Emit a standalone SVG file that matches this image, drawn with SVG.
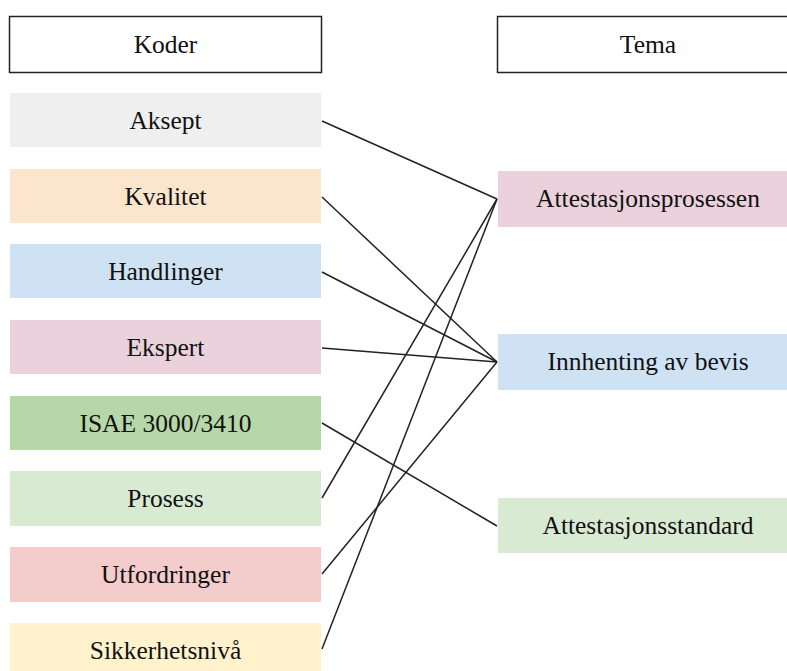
<svg xmlns="http://www.w3.org/2000/svg" width="787" height="671" viewBox="0 0 787 671">
<style>
text{font-family:"Liberation Serif","Times New Roman",serif;font-size:25.5px;fill:#111;text-anchor:middle}
.hdr{fill:#fff;stroke:#222;stroke-width:1.5}
.lk{stroke:#222;stroke-width:1.5;fill:none}
</style>
<rect width="787" height="671" fill="#fff"/>
<g id="koder"><rect class="hdr" x="9.5" y="16.5" width="312" height="56"/><text x="165.5" y="53">Koder</text></g>
<g id="tema"><rect class="hdr" x="497.5" y="16.5" width="302" height="56"/><text x="648" y="53">Tema</text></g>
<g id="aksept"><rect x="10" y="93" width="311" height="54" fill="#efefef"/><text x="165.5" y="129">Aksept</text></g>
<g id="kvalitet"><rect x="10" y="169" width="311" height="54" fill="#fce5cd"/><text x="165.5" y="205">Kvalitet</text></g>
<g id="handlinger"><rect x="10" y="244" width="311" height="54" fill="#cfe2f3"/><text x="165.5" y="280">Handlinger</text></g>
<g id="ekspert"><rect x="10" y="320" width="311" height="54" fill="#ead1dc"/><text x="165.5" y="356">Ekspert</text></g>
<g id="isae"><rect x="10" y="396" width="311" height="54" fill="#b6d7a8"/><text x="165.5" y="432">ISAE 3000/3410</text></g>
<g id="prosess"><rect x="10" y="471" width="311" height="55" fill="#d9ead3"/><text x="165.5" y="507">Prosess</text></g>
<g id="utfordringer"><rect x="10" y="547" width="311" height="55" fill="#f4cccc"/><text x="165.5" y="583">Utfordringer</text></g>
<g id="sikkerhetsniva"><rect x="10" y="623" width="311" height="55" fill="#fff2cc"/><text x="165.5" y="659">Sikkerhetsnivå</text></g>
<g id="attestasjonsprosessen"><rect x="498" y="171" width="301" height="56" fill="#ead1dc"/><text x="648" y="207">Attestasjonsprosessen</text></g>
<g id="innhenting"><rect x="498" y="334" width="301" height="56" fill="#cfe2f3"/><text x="648" y="370">Innhenting av bevis</text></g>
<g id="attestasjonsstandard"><rect x="498" y="498" width="301" height="55" fill="#d9ead3"/><text x="648" y="534">Attestasjonsstandard</text></g>
<g id="connectors">
<line class="lk" x1="322" y1="121" x2="497" y2="199"/>
<line class="lk" x1="322" y1="197" x2="497" y2="362"/>
<line class="lk" x1="322" y1="272" x2="497" y2="362"/>
<line class="lk" x1="322" y1="348" x2="497" y2="362"/>
<line class="lk" x1="322" y1="423" x2="497" y2="526"/>
<line class="lk" x1="322" y1="498" x2="497" y2="199"/>
<line class="lk" x1="322" y1="574" x2="497" y2="362"/>
<line class="lk" x1="322" y1="649" x2="497" y2="199"/>
</g>
</svg>
